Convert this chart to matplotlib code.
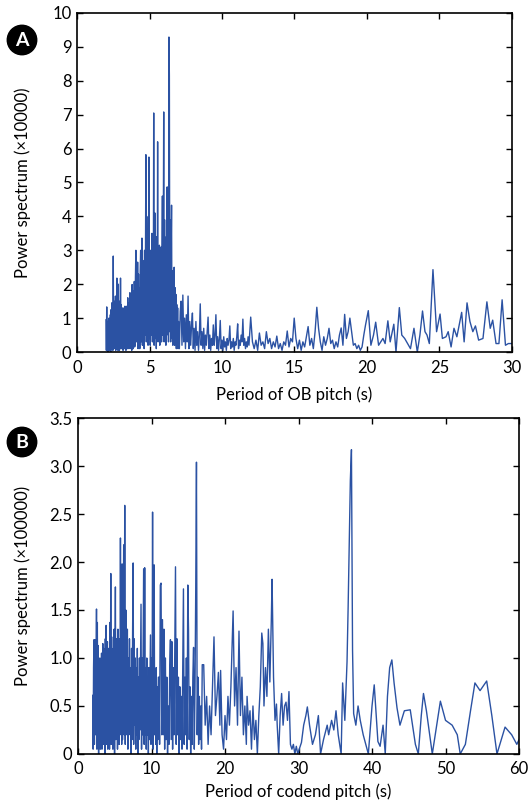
import numpy as np
import matplotlib
matplotlib.use("Agg")
import matplotlib.pyplot as plt
from matplotlib.ticker import FuncFormatter

plt.rcParams['font.family'] = ['Lato', 'DejaVu Sans']

# ---- panel A: OB pitch, power spectrum (x10000) ----
# dense part, evenly sampled segments (start, stop)
a1_y = [0.95, 0.05, 1.33, 0.1, 0.9, 0.0, 0.75, 0.1, 1.0, 0.05, 0.85, 0.15, 1.1, 0.0, 1.25, 0.1,
        1.45, 0.2, 1.2, 0.05, 2.83, 0.2, 1.5, 0.1, 1.3, 0.25, 1.65, 0.05, 1.4, 0.1, 2.18, 0.2,
        1.5, 0.05, 2.0, 0.2, 1.3, 0.05, 1.5, 0.1, 2.18, 0.25, 1.4, 0.1, 1.0, 0.15, 1.3, 0.05,
        1.1, 0.2, 1.3, 0.1, 1.35, 0.25, 1.2, 0.05, 1.35, 0.15, 1.1, 0.1, 1.6, 0.2, 1.2, 0.1,
        1.45, 0.3, 1.75, 0.1, 1.3, 0.2, 1.6, 0.05, 1.99, 0.25, 1.5, 0.1, 1.8, 0.3, 2.08, 0.15]
a2_y = [0.2, 2.2, 3.0, 0.3, 2.0, 0.4, 2.65, 0.1, 2.3, 0.3, 1.9, 0.1, 2.4, 3.0, 0.3, 2.5,
        3.36, 0.2, 2.7, 0.4, 2.2, 0.1, 3.0, 0.5, 2.4, 5.82, 0.3, 4.0, 0.6, 2.6, 0.2, 3.3,
        5.75, 0.4, 2.7, 0.2, 3.0, 0.5, 2.4, 3.5, 0.3, 2.9, 0.6, 7.05, 0.2, 3.2, 4.1, 0.4,
        2.5, 0.1, 3.4, 0.6, 6.2, 0.3, 2.8, 0.5, 3.15, 0.2, 2.6, 0.4, 3.1, 0.3, 2.9, 4.6,
        0.5, 3.0, 7.08, 0.3, 3.9, 0.6, 2.8, 0.2, 3.4, 0.5, 4.87, 0.8, 3.2, 0.3, 9.29, 8.14,
        0.6, 3.9, 0.3, 2.8, 4.33, 0.4, 2.4, 0.2, 2.0, 0.4, 2.5, 0.2, 1.9, 0.3, 1.7, 0.1,
        1.4, 0.3, 1.3, 0.1]
a3_y = [0.9, 0.1, 1.2, 1.5, 0.2, 1.68, 0.3, 1.0, 0.1, 1.1, 0.3, 1.65, 0.1, 0.9, 0.2, 0.8,
        1.15, 0.1, 0.7, 0.05, 0.9, 0.2, 0.6, 0.05, 0.5, 1.42, 0.2, 0.6, 0.1, 0.7, 0.05, 0.5,
        0.2, 0.6, 1.03, 0.1, 0.5, 0.05, 0.4, 0.2, 0.8, 0.2, 0.5, 1.1, 0.1, 0.45, 0.05, 0.4,
        0.93, 0.1, 0.35, 0.05, 0.45, 0.15, 0.3, 0.05, 0.4, 0.2, 0.35, 0.77, 0.1, 0.3, 0.15, 0.4,
        0.05, 0.3, 0.2, 0.45, 0.83, 0.1, 0.35, 0.2, 0.5, 0.3, 0.97, 0.2, 0.4, 0.1, 0.3, 0.15,
        0.45, 0.2, 0.6, 1.03]
a4_y = [0.3, 0.1, 0.35, 0.05, 0.56, 0.2, 0.3, 0.1, 0.6, 0.25, 0.4, 0.1, 0.3, 0.15, 0.47, 0.1,
        0.25, 0.05, 0.3, 0.2, 0.62, 0.15, 0.4, 0.3, 1.0, 0.4, 0.1, 0.35, 0.05, 0.3, 0.15, 0.45,
        0.75, 0.2, 0.4, 0.1, 0.6, 1.32, 0.7, 0.3, 0.05, 0.45, 0.2, 0.4, 0.7, 0.25, 0.35, 0.1,
        0.3, 0.15, 0.5, 0.71, 0.2, 1.11, 0.4, 0.6, 1.0, 0.6, 0.2, 0.25, 0.1, 0.2, 0.05, 0.15,
        0.5, 0.8]
a_segments = [(2.0, 4.0, a1_y), (4.0, 7.0, a2_y), (7.0, 12.04, a3_y), (12.1, 20.02, a4_y)]
# sparse tail, read point by point
a5_x = [20.09, 20.27, 20.45, 20.6, 20.8, 21.1, 21.25, 21.44, 21.6, 21.85, 22.0, 22.23, 22.4,
        22.6, 22.8, 23.0, 23.24, 23.47, 23.65, 23.83, 24.0, 24.14, 24.3, 24.55, 24.8, 25.04,
        25.2, 25.45, 25.6, 25.8, 26.0, 26.2, 26.53, 26.7, 26.9, 27.1, 27.3, 27.48, 27.7, 28.0,
        28.27, 28.5, 28.67, 28.9, 29.1, 29.32, 29.55, 29.75, 30.0]
a5_y = [1.22, 0.2, 0.5, 0.88, 0.2, 0.4, 0.25, 0.92, 0.3, 0.82, 0.0, 1.31, 0.5,
        0.4, 0.25, 0.1, 0.7, 0.0, 0.5, 1.21, 0.6, 0.5, 0.25, 2.43, 0.6, 1.12,
        0.4, 0.45, 0.6, 0.15, 0.7, 0.45, 1.17, 0.3, 1.45, 0.9, 0.6, 0.77, 0.35, 0.4,
        1.48, 0.7, 0.94, 0.25, 0.25, 1.54, 0.2, 0.25, 0.25]

# ---- panel B: codend pitch, power spectrum (x100000) ----
b1_y = [0.61, 0.05, 0.9, 1.19, 0.1, 1.0, 1.19, 0.2, 0.85, 1.51, 0.05, 1.37, 0.2, 1.13, 0.0, 0.95,
        0.15, 1.0, 0.05, 0.9, 0.2, 1.05, 0.05, 0.85, 1.15, 0.1, 1.1, 0.2, 0.95, 0.0, 1.2, 0.15,
        1.34, 0.1, 1.0, 1.17, 0.05, 1.1, 0.25, 1.0, 0.05, 1.37, 0.2, 1.88, 0.1, 1.22, 0.3, 1.0,
        0.05, 1.1, 0.2, 1.3, 0.0, 1.0, 1.74, 0.15, 1.2, 0.25, 1.05, 0.05, 1.3, 0.2, 1.1, 0.1,
        1.2, 0.2, 2.25, 0.3, 1.4, 0.1]
b2_y = [1.98, 0.15, 1.2, 2.18, 0.2, 2.59, 0.1, 1.5, 1.1, 0.2, 1.3, 0.05, 1.0, 0.2, 1.2, 0.3,
        0.9, 0.0, 1.1, 0.15, 1.3, 1.99, 0.1, 1.2, 0.3, 1.0, 0.05, 0.9, 0.2, 1.1, 0.0, 0.8,
        0.15, 1.0, 0.25, 0.9, 1.56, 0.05, 1.0, 0.2, 1.1, 1.93, 0.1, 1.94, 0.2, 0.9, 0.05, 1.0,
        0.2, 0.8, 0.0, 0.9, 0.15, 0.7, 1.24, 0.1, 1.0, 0.2, 2.52, 0.05, 1.2, 1.97, 0.2, 0.8,
        0.1, 0.9, 0.0, 0.7, 0.15, 0.8]
b3_y = [0.8, 0.1, 1.76, 1.78, 0.2, 1.4, 0.2, 1.3, 0.05, 1.0, 0.15, 0.8, 0.0, 0.5, 0.1, 0.9,
        1.19, 0.15, 1.17, 0.05, 0.9, 0.2, 1.1, 1.95, 0.1, 1.2, 0.2, 0.8, 0.0, 0.7, 0.15, 0.6,
        0.05, 0.9, 1.72, 0.1, 0.8, 0.2, 1.0, 0.05, 1.76, 1.3, 0.15, 0.7, 0.0, 0.6, 0.1, 0.8,
        1.11, 0.05, 0.7, 1.72, 3.04, 0.2, 0.8, 0.1, 0.6, 0.15, 0.5, 0.05, 0.93]
b_segments = [(2.0, 6.0, b1_y), (6.0, 11.0, b2_y), (11.0, 17.0, b3_y)]
b4_x = [17.1, 17.3, 17.5, 17.7, 17.9, 18.1, 18.3, 18.5, 18.7, 18.9, 19.1, 19.3, 19.4, 19.6,
        19.8, 20.0, 20.2, 20.4, 20.6, 20.8, 21.1, 21.3, 21.5, 21.7, 21.9, 22.1, 22.3, 22.5,
        22.7, 22.9, 23.0, 23.2, 23.4, 23.6, 23.8, 24.0, 24.2, 24.4, 24.6, 24.8, 25.0, 25.15,
        25.3, 25.5, 25.7, 25.9, 26.1, 26.3, 26.4, 26.6, 26.8, 27.0, 27.1, 27.3, 27.5, 27.7,
        27.9, 28.1, 28.3, 28.5, 28.7, 28.9, 29.1, 29.3, 29.5, 29.7, 29.9]
b4_y = [0.93, 0.3, 0.6, 0.1, 0.5, 0.2, 0.7, 1.22, 0.4, 0.6, 0.85, 0.3, 0.87, 0.2,
        0.05, 0.4, 0.15, 0.6, 0.3, 0.7, 1.49, 0.5, 0.9, 0.3, 1.28, 0.4, 0.8, 0.2,
        0.5, 0.1, 0.6, 0.3, 0.45, 0.05, 0.5, 0.15, 0.35, 0.0, 0.4, 0.7, 1.26, 1.15,
        0.5, 0.9, 0.6, 1.3, 0.75, 1.4, 1.82, 0.8, 0.35, 0.52, 0.3, 0.0, 0.4, 0.63,
        0.3, 0.5, 0.54, 0.35, 0.65, 0.1, 0.05, 0.1, 0.0, 0.08, 0.0]
b5_x = [30.1, 30.4, 30.7, 31.0, 31.2, 31.5, 31.9, 32.3, 32.7, 33.0, 33.4, 33.9, 34.1, 34.5,
        34.8, 35.1, 35.4, 35.8, 36.0, 36.3, 36.6, 36.75, 36.9, 37.05, 37.2, 37.35, 37.5, 37.8,
        38.1, 38.4, 38.8, 39.5, 40.0, 40.3, 40.8, 41.1, 41.5, 41.8, 42.1, 42.4, 42.7, 43.0,
        43.4, 43.8, 44.4, 45.2, 45.9, 46.3, 46.7, 47.0, 47.4, 48.2, 48.8, 49.3, 50.0, 50.9,
        51.6, 52.0, 52.7, 53.4, 54.0, 54.7, 55.6, 56.3, 57.0, 58.1, 59.0, 59.7, 60.0]
b5_y = [0.05, 0.12, 0.3, 0.4, 0.49, 0.3, 0.1, 0.2, 0.4, 0.0, 0.15, 0.3, 0.2, 0.35,
        0.25, 0.45, 0.2, 0.0, 0.74, 0.35, 0.96, 1.53, 2.2, 2.85, 3.17, 1.08, 0.42, 0.3,
        0.5, 0.35, 0.2, 0.0, 0.5, 0.72, 0.13, 0.08, 0.3, 0.0, 0.6, 0.9, 0.98, 0.74,
        0.48, 0.3, 0.45, 0.46, 0.1, 0.0, 0.4, 0.63, 0.45, 0.0, 0.3, 0.55, 0.35, 0.3,
        0.2, 0.0, 0.1, 0.45, 0.74, 0.66, 0.76, 0.4, 0.0, 0.28, 0.2, 0.1, 0.15]

line_color = '#2B52A3'


def build(segments, tail_parts):
    xs, ys = [], []
    for start, stop, vals in segments:
        xs.append(np.linspace(start, stop, len(vals), endpoint=False))
        ys.append(np.array(vals))
    for tx, ty in tail_parts:
        xs.append(np.array(tx))
        ys.append(np.array(ty))
    return np.concatenate(xs), np.concatenate(ys)


def style_axes(ax, xpad):
    ax.tick_params(direction='in', top=True, right=True, length=4, width=1,
                   labelsize=12)
    ax.tick_params(axis='x', pad=xpad)
    ax.tick_params(axis='y', pad=4)
    for s in ax.spines.values():
        s.set_linewidth(1.2)


fig = plt.figure(figsize=(5.3, 8.05), dpi=100)

# panel A
ax1 = fig.add_axes([0.1453, 0.5627, 0.8207, 0.4212])
xa, ya = build(a_segments, [(a5_x, a5_y)])
ax1.plot(xa, ya, color=line_color, lw=1.0)
ax1.set_xlim(0, 30)
ax1.set_ylim(0, 10)
ax1.set_xticks(range(0, 31, 5))
ax1.set_yticks(range(0, 11))
ax1.set_xlabel('Period of OB pitch (s)', fontsize=12, labelpad=7)
ax1.set_ylabel('Power spectrum (\u00d710000)', fontsize=12)
ax1.yaxis.set_label_coords(-0.105, 0.5)
style_axes(ax1, 6)

# panel B
ax2 = fig.add_axes([0.1472, 0.0634, 0.8321, 0.4173])
xb, yb = build(b_segments, [(b4_x, b4_y), (b5_x, b5_y)])
ax2.plot(xb, yb, color=line_color, lw=1.0)
ax2.set_xlim(0, 60)
ax2.set_ylim(0, 3.5)
ax2.set_xticks(range(0, 61, 10))
ax2.set_yticks(np.arange(0, 3.51, 0.5))
ax2.yaxis.set_major_formatter(FuncFormatter(lambda v, p: '0' if v == 0 else f'{v:.1f}'))
ax2.set_xlabel('Period of codend pitch (s)', fontsize=12, labelpad=5)
ax2.set_ylabel('Power spectrum (\u00d7100000)', fontsize=12)
ax2.yaxis.set_label_coords(-0.107, 0.5)
style_axes(ax2, 5)

# panel letters
for letter, yy in [('A', 1 - 40 / 805), ('B', 1 - 442 / 805)]:
    fig.text(22 / 530, yy, letter, color='white', fontsize=14, fontweight='bold',
             ha='center', va='center',
             bbox=dict(boxstyle='circle,pad=0.32', fc='black', ec='black'))

fig.savefig('out.png', dpi=100)
